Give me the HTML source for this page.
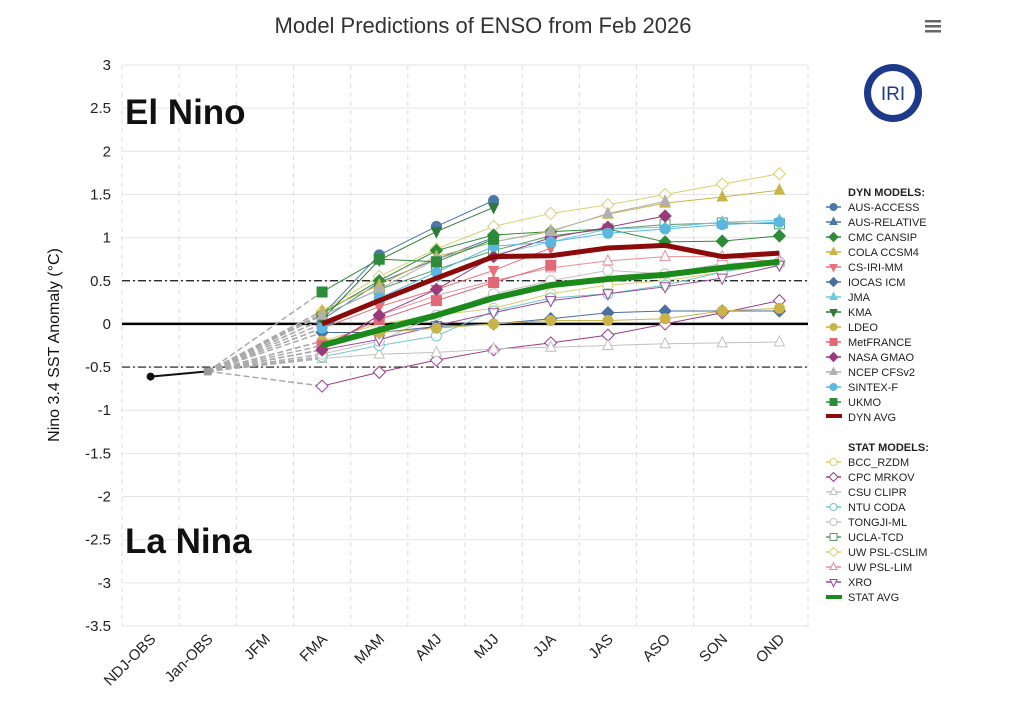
<!DOCTYPE html>
<html><head><meta charset="utf-8"><style>
body{margin:0;background:#fff;font-family:"Liberation Sans",sans-serif;}
svg text{font-family:"Liberation Sans",sans-serif;}
</style></head><body>
<svg id="c" width="1025" height="710" xmlns="http://www.w3.org/2000/svg">
<text x="483" y="33" text-anchor="middle" font-size="22" fill="#333">Model Predictions of ENSO from Feb 2026</text>
<g><rect x="925" y="20" width="16" height="2.5" fill="#666"/><rect x="925" y="25" width="16" height="2.5" fill="#666"/><rect x="925" y="30" width="16" height="2.5" fill="#666"/></g>
<g><circle cx="893" cy="93" r="29" fill="#1d3a8a"/><circle cx="893" cy="93" r="22" fill="#fff"/><text x="893" y="100" text-anchor="middle" font-family="Liberation Serif,serif" font-size="19" fill="#1d3a8a">IRI</text></g>
<g id="grid"></g><g id="axes"></g><g id="series"></g><g id="legend"></g>
<text x="125" y="124" font-size="35" font-weight="bold" fill="#111">El Nino</text>
<text x="125" y="553" font-size="35" font-weight="bold" fill="#111">La Nina</text>
<text transform="translate(59,345) rotate(-90)" text-anchor="middle" font-size="16" fill="#111">Nino 3.4 SST Anomaly (°C)</text>
</svg>
<script>
const categories=["NDJ-OBS","Jan-OBS","JFM","FMA","MAM","AMJ","MJJ","JJA","JAS","ASO","SON","OND"];
const yTicks=[3,2.5,2,1.5,1,0.5,0,-0.5,-1,-1.5,-2,-2.5,-3,-3.5];
const obsValues=[-0.61,-0.55];
const dynNames=["AUS-ACCESS","AUS-RELATIVE","CMC CANSIP","COLA CCSM4","CS-IRI-MM","IOCAS ICM","JMA","KMA","LDEO","MetFRANCE","NASA GMAO","NCEP CFSv2","SINTEX-F","UKMO"];
const dynColors=["#4a78a8","#4a78a8","#2e8b3a","#c8b448","#e8707a","#4a6fa0","#6cc8dc","#2e7a3a","#c8b448","#e06878","#9a3a7a","#b0b0b0","#5ab8e0","#2e8b3a"];
const dynShapes=["circle","tri","diamond","tri","tridown","diamond","tri","tridown","circle","square","diamond","tri","circle","square"];
const dynValues=[
[0.1,0.8,1.13,1.43],
[0.05,0.48,0.75,1.0],
[0.12,0.5,0.85,1.03,1.07,1.1,0.95,0.96,1.02],
[0.15,0.45,0.78,0.95,1.08,1.27,1.4,1.47,1.55],
[-0.05,0.2,0.4,0.62,0.88],
[-0.1,-0.1,-0.03,0.0,0.06,0.13,0.15,0.15,0.15],
[0.0,0.3,0.55,0.8,0.95,1.1,1.12,1.18,1.2],
[0.05,0.74,1.07,1.35],
[-0.2,-0.1,-0.05,0.0,0.04,0.04,0.06,0.15,0.18],
[-0.25,0.05,0.27,0.48,0.68],
[-0.3,0.1,0.4,0.78,1.0,1.12,1.25],
[0.1,0.4,0.75,0.95,1.07,1.28,1.42],
[-0.05,0.3,0.6,0.9,0.95,1.05,1.1,1.15,1.18],
[0.37,0.75,0.72,0.98]];
const dynAvg=[0.0,0.27,0.53,0.78,0.79,0.88,0.91,0.78,0.82];
const statNames=["BCC_RZDM","CPC MRKOV","CSU CLIPR","NTU CODA","TONGJI-ML","UCLA-TCD","UW PSL-CSLIM","UW PSL-LIM","XRO"];
const statColors=["#d8cf70","#9a3a8a","#c0c0c0","#70c8c8","#c0c0c0","#5a9a6a","#d8cf70","#e8909a","#9a4a9a"];
const statShapes=["circle","diamond","tri","circle","circle","square","diamond","tri","tridown"];
const statValues=[
[-0.2,0.0,0.1,0.18,0.35,0.45,0.5,0.6,0.7],
[-0.72,-0.56,-0.42,-0.3,-0.22,-0.13,0.0,0.13,0.27],
[-0.4,-0.35,-0.33,-0.29,-0.27,-0.25,-0.23,-0.22,-0.21],
[-0.38,-0.25,-0.14,0.15,0.3,0.35,0.45,0.6,0.72],
[-0.35,-0.2,0.1,0.35,0.5,0.62,0.58,0.7,0.72],
[0.1,0.4,0.63,0.85,1.02,1.1,1.15,1.17,1.16],
[0.15,0.55,0.87,1.13,1.28,1.38,1.5,1.62,1.74],
[-0.3,0.1,0.33,0.5,0.65,0.73,0.78,0.78,0.72],
[-0.3,-0.18,-0.02,0.13,0.27,0.35,0.43,0.53,0.68]];
const statAvg=[-0.25,-0.07,0.1,0.3,0.45,0.52,0.57,0.65,0.72];

const NS="http://www.w3.org/2000/svg";
const L=122,R=808,T=65,B=626,yMax=3,yMin=-3.5;
const bw=(R-L)/categories.length;
const X=i=>L+bw*(i+0.5);
const Y=v=>T+(yMax-v)/(yMax-yMin)*(B-T);
function mk(tag,attrs,parent){const e=document.createElementNS(NS,tag);for(const k in attrs)e.setAttribute(k,attrs[k]);parent.appendChild(e);return e;}
const grid=document.getElementById('grid'),axes=document.getElementById('axes'),ser=document.getElementById('series'),leg=document.getElementById('legend');
yTicks.forEach(v=>{
 const g=mk('line',{x1:L,x2:R,y1:Y(v),y2:Y(v),stroke:'#e6e6e6','stroke-width':1},grid);
 
 
 const t=mk('text',{x:111,y:Y(v)+5,'text-anchor':'end','font-size':15,fill:'#222'},axes);
 t.textContent=v;
 
 
});
for(let i=0;i<=categories.length;i++){
 const g=mk('line',{x1:L+bw*i,x2:L+bw*i,y1:T,y2:B,stroke:'#dcdcdc','stroke-dasharray':'5,4'},grid);
 
 
}
categories.forEach((c,i)=>{
 const t=mk('text',{transform:`translate(${X(i)+6},${B+14}) rotate(-45)`,'text-anchor':'end','font-size':15,fill:'#222'},axes);
 t.textContent=c;
 
 
});
[0.5,-0.5].forEach(v=>{
 const l=mk('line',{x1:L,x2:R,y1:Y(v),y2:Y(v),stroke:'#111','stroke-width':1.2,'stroke-dasharray':'8,3,2,3'},axes);
 
 
});
const z=mk('line',{x1:L,x2:R,y1:Y(0),y2:Y(0),stroke:'#000','stroke-width':2.5},axes);



function marker(shape,x,y,col,filled,parent,s){
 s=s||5;const f=filled?col:'#fff';let e;
 if(shape==='circle')e=mk('circle',{cx:x,cy:y,r:s,fill:f,stroke:col,'stroke-width':1},parent);
 else if(shape==='square')e=mk('rect',{x:x-s,y:y-s,width:2*s,height:2*s,fill:f,stroke:col,'stroke-width':1},parent);
 else if(shape==='diamond')e=mk('path',{d:`M${x},${y-s-1}L${x+s+1},${y}L${x},${y+s+1}L${x-s-1},${y}Z`,fill:f,stroke:col,'stroke-width':1},parent);
 else if(shape==='tri')e=mk('path',{d:`M${x},${y-s-1}L${x+s},${y+s-1}L${x-s},${y+s-1}Z`,fill:f,stroke:col,'stroke-width':1},parent);
 else e=mk('path',{d:`M${x},${y+s+1}L${x+s},${y-s+1}L${x-s},${y-s+1}Z`,fill:f,stroke:col,'stroke-width':1},parent);
 return e;
}
[...dynValues,...statValues].forEach(vals=>{
 const d=mk('line',{x1:X(1),y1:Y(obsValues[1]),x2:X(3),y2:Y(vals[0]),stroke:'#aaa','stroke-width':1.5,'stroke-dasharray':'6,3'},ser);
 
 
});
function series(vals,col,shape,filled,name){
 const g=mk('g',{},ser);
 
 
 mk('polyline',{points:vals.map((v,i)=>X(i+3)+','+Y(v)).join(' '),fill:'none',stroke:col,'stroke-width':1},g);
 vals.forEach((v,i)=>marker(shape,X(i+3),Y(v),col,filled,g));
}
statValues.forEach((v,k)=>series(v,statColors[k],statShapes[k],false,statNames[k]));
dynValues.forEach((v,k)=>series(v,dynColors[k],dynShapes[k],true,dynNames[k]));
function avg(vals,col,w,name){
 const p=mk('polyline',{points:vals.map((v,i)=>X(i+3)+','+Y(v)).join(' '),fill:'none',stroke:col,'stroke-width':w,'stroke-linejoin':'round'},ser);
 
 
}
avg(statAvg,'#1a8a1a',6,'stat-avg-line');
avg(dynAvg,'#8b0a0a',5,'dyn-avg-line');
const og=mk('g',{},ser);


mk('line',{x1:X(0),y1:Y(obsValues[0]),x2:X(1),y2:Y(obsValues[1]),stroke:'#111','stroke-width':2},og);
mk('circle',{cx:X(0),cy:Y(obsValues[0]),r:4,fill:'#111'},og);
mk('rect',{x:X(1)-4,y:Y(obsValues[1])-4,width:8,height:8,fill:'#999'},og);

function legText(y,txt,bold){const t=mk('text',{x:848,y:y+4,'font-size':11,fill:'#222','font-weight':bold?'bold':'normal'},leg);t.textContent=txt;return t;}
let h=legText(192,'DYN MODELS:',true);
dynNames.forEach((n,k)=>{
 const y=207+15*k;const g=mk('g',{},leg);
 
 
 mk('line',{x1:826,x2:841,y1:y,y2:y,stroke:dynColors[k],'stroke-width':1.5},g);
 marker(dynShapes[k],833.5,y,dynColors[k],true,g,3.5);
 const t=mk('text',{x:848,y:y+4,'font-size':11,fill:'#222'},g);t.textContent=n;
});
let gd=mk('g',{},leg);


mk('rect',{x:826,y:414,width:16,height:4,fill:'#8b0a0a'},gd);
let td=mk('text',{x:848,y:421,'font-size':11,fill:'#222'},gd);td.textContent='DYN AVG';
h=legText(447,'STAT MODELS:',true);
statNames.forEach((n,k)=>{
 const y=462+15*k;const g=mk('g',{},leg);
 
 
 mk('line',{x1:826,x2:841,y1:y,y2:y,stroke:statColors[k],'stroke-width':1.5},g);
 marker(statShapes[k],833.5,y,statColors[k],false,g,3.5);
 const t=mk('text',{x:848,y:y+4,'font-size':11,fill:'#222'},g);t.textContent=n;
});
gd=mk('g',{},leg);


mk('rect',{x:826,y:595,width:16,height:4,fill:'#1a8a1a'},gd);
td=mk('text',{x:848,y:601,'font-size':11,fill:'#222'},gd);td.textContent='STAT AVG';
</script>
</body></html>
